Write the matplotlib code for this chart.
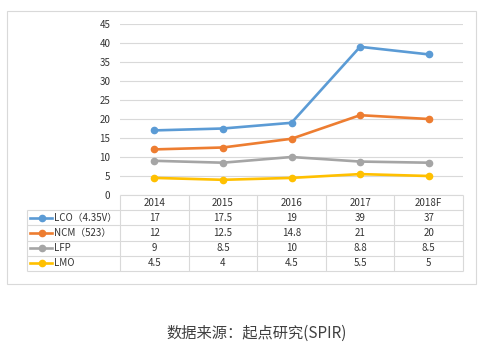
import matplotlib.pyplot as plt
from matplotlib.patches import Rectangle

plt.rcParams['font.family'] = ['Noto Sans CJK SC', 'DejaVu Sans']

years = ['2014', '2015', '2016', '2017', '2018F']
names = ['LCO（4.35V）', 'NCM（523）', 'LFP', 'LMO']
lco = [17, 17.5, 19, 39, 37]
ncm = [12, 12.5, 14.8, 21, 20]
lfp = [9, 8.5, 10, 8.8, 8.5]
lmo = [4.5, 4, 4.5, 5.5, 5]
series = [lco, ncm, lfp, lmo]
colors = ['#5B9BD5', '#ED7D31', '#A5A5A5', '#FFC000']
caption = '数据来源：起点研究(SPIR)'

W, H = 485, 355
grid_c = '#d9d9d9'
txt_c = '#333333'


def box(x0, y0, x1, y1):
    return [x0 / W, 1 - y1 / H, (x1 - x0) / W, (y1 - y0) / H]


fig = plt.figure(figsize=(W / 100, H / 100), dpi=100)

# outer frame
fig.patches.append(Rectangle((7 / W, 1 - 284 / H), 469 / W, 273 / H,
                             transform=fig.transFigure, fill=False,
                             edgecolor=grid_c, linewidth=0.8))

# line chart
ax = fig.add_axes(box(120, 24, 463, 195))
x = list(range(len(years)))
for vals, c in zip(series, colors):
    ax.plot(x, vals, color=c, linewidth=1.9, marker='o', markersize=4.5)
ax.set_xlim(-0.5, len(years) - 0.5)
ax.set_ylim(0, 45)
ax.set_yticks(range(0, 46, 5))
ax.set_xticks([])
ax.grid(axis='y', color=grid_c, linewidth=0.8)
ax.set_axisbelow(True)
for s in ax.spines.values():
    s.set_visible(False)
ax.tick_params(axis='y', length=0, pad=7, labelsize=7, labelcolor=txt_c)

# data table below the chart
tb = fig.add_axes(box(27, 195, 463, 271))
unit = 343 / len(years)
xl = -0.5 - 93 / unit
tb.set_xlim(xl, len(years) - 0.5)
tb.set_ylim(len(series) + 1, 0)
tb.axis('off')

tb.hlines(0, -0.5, len(years) - 0.5, color=grid_c, linewidth=0.8, clip_on=False)
for r in range(1, len(series) + 2):
    tb.hlines(r, xl, len(years) - 0.5, color=grid_c, linewidth=0.8, clip_on=False)
for i in range(len(years) + 1):
    tb.vlines(i - 0.5, 0, len(series) + 1, color=grid_c, linewidth=0.8, clip_on=False)
tb.vlines(xl, 1, len(series) + 1, color=grid_c, linewidth=0.8, clip_on=False)

for i, yr in enumerate(years):
    tb.text(i, 0.5, yr, ha='center', va='center', fontsize=7, color=txt_c)

for r, (name, vals, c) in enumerate(zip(names, series, colors), start=1):
    yc = r + 0.5
    tb.plot([xl + 3 / unit, xl + 25 / unit], [yc, yc], color=c, linewidth=1.9,
            clip_on=False)
    tb.plot([xl + 15 / unit], [yc], 'o', color=c, markersize=4.5, clip_on=False)
    tb.text(xl + 27 / unit, yc, name, ha='left', va='center', fontsize=7,
            color=txt_c)
    for i, v in enumerate(vals):
        tb.text(i, yc, f'{v:g}', ha='center', va='center', fontsize=7, color=txt_c)

fig.text(257 / W, 1 - 333 / H, caption, ha='center', va='center',
         fontsize=11, color='#404040')

fig.savefig('out.png', dpi=100)
